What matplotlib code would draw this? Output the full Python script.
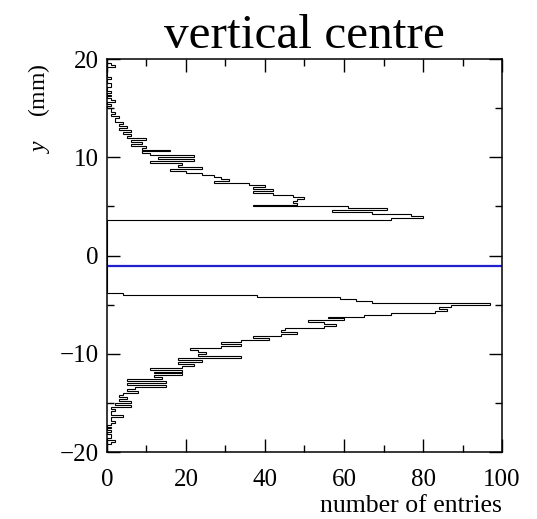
import numpy as np
import matplotlib
matplotlib.use('Agg')
import matplotlib.pyplot as plt
from matplotlib.ticker import MultipleLocator

# histogram of vertical centre positions, 0.2 mm bins
bin_width = 0.2

# counts for bins going up from y = 3.6 mm
upper_start = 3.6
upper_counts = [72, 80, 77, 67, 57, 71, 61, 37, 48, 47,
                48, 50, 47, 42, 37, 42, 37, 40, 36, 27,
                31, 29, 27, 24, 20, 16, 24, 18, 19, 11,
                22, 13, 22, 11, 9, 16, 9, 10, 6, 9,
                6, 10, 5, 6, 4, 6, 3, 5, 3, 4,
                2, 2, 3, 1, 2, 1, 1, 0, 1, 0,
                2, 1, 0, 1, 0, 1, 0, 0, 1, 1,
                0, 0, 1, 0, 0, 0, 0, 0, 2, 1]

# counts for bins going down from y = -3.8 mm
lower_start = -3.8
lower_counts = [4, 38, 59, 63, 67, 97, 87, 84, 86, 83,
                72, 65, 56, 60, 51, 55, 58, 55, 45, 44,
                48, 44, 37, 41, 34, 29, 34, 29, 21, 23,
                25, 23, 34, 18, 24, 18, 22, 19, 11, 19,
                12, 19, 12, 14, 5, 15, 5, 15, 7, 5,
                8, 4, 3, 5, 3, 6, 2, 6, 1, 2,
                1, 1, 4, 1, 1, 2, 1, 0, 1, 0,
                1, 0, 1, 1, 0, 2, 1, 0]

fit_centre = -1.1

# build one histogram over -20..20
edges = np.round(np.arange(-20, 20 + bin_width / 2, bin_width), 3)
counts = np.zeros(len(edges) - 1)
i0 = int(round((upper_start + 20) / bin_width))
counts[i0:i0 + len(upper_counts)] = upper_counts
for k, c in enumerate(lower_counts):
    counts[int(round((lower_start + 20) / bin_width)) - 1 - k] = c

plt.rcParams['font.family'] = ['Liberation Serif', 'DejaVu Serif']
plt.rcParams['mathtext.fontset'] = 'custom'
plt.rcParams['mathtext.it'] = 'Liberation Serif:italic'
plt.rcParams['mathtext.rm'] = 'Liberation Serif'

fig = plt.figure(figsize=(5.37, 5.19), dpi=100)
ax = fig.add_axes([0.199, 0.129, 0.736, 0.757])

ax.stairs(counts, edges, orientation='horizontal', color='black', linewidth=0.8)
ax.axhline(fit_centre, color='#2020d0', linewidth=1.6)

ax.set_xlim(0, 100)
ax.set_ylim(-20, 20)
ax.xaxis.set_major_locator(MultipleLocator(20))
ax.xaxis.set_minor_locator(MultipleLocator(10))
ax.yaxis.set_major_locator(MultipleLocator(10))
ax.yaxis.set_minor_locator(MultipleLocator(5))
ax.tick_params(which='both', direction='in', top=True, right=True, width=1.0,
               labelsize=18)
ax.tick_params(which='major', length=9.5)
ax.tick_params(which='minor', length=5)
ax.tick_params(axis='y', pad=6)
ax.tick_params(axis='x', pad=12)
for s in ax.spines.values():
    s.set_linewidth(1.1)

ax.set_title('vertical centre', fontsize=35.5, pad=8)
ax.set_xlabel('number of entries', fontsize=18.5, loc='right', labelpad=3)
ax.set_ylabel('$y$    (mm)', fontsize=17, loc='top')
ax.yaxis.set_label_coords(-0.14, 0.99)

fig.savefig('out.png', dpi=100)
